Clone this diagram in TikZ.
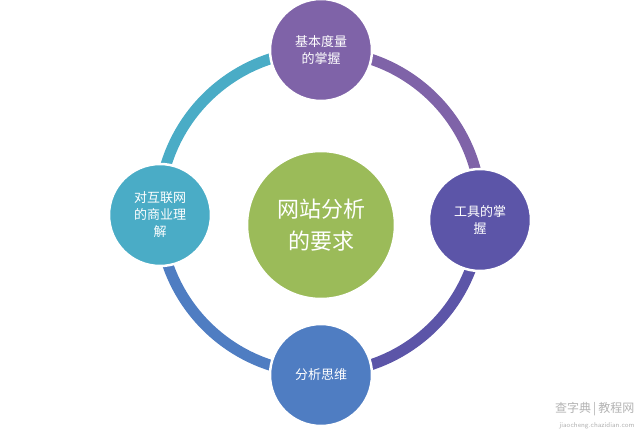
\documentclass[tikz,border=0pt]{standalone}
\usepackage{fontspec}
\newfontfamily\cjk{Noto Sans CJK SC}
\begin{document}
\begin{tikzpicture}[x=1pt,y=1pt,
  bub/.style={circle,draw=white,line width=2.5pt,text=white,font=\cjk\fontsize{13}{17}\selectfont,align=center,inner sep=0pt,minimum size=102pt},
  seg/.style={line width=11pt}]
\useasboundingbox (0,0) rectangle (642,431);
\definecolor{cT}{HTML}{7F63A8}
\definecolor{cR}{HTML}{5C55A8}
\definecolor{cB}{HTML}{4F7DC2}
\definecolor{cL}{HTML}{4AACC6}
\definecolor{cG}{HTML}{9BBB59}
\coordinate (o) at (320,219);
\draw[seg,cT] ([shift={(90:161)}]o) arc[start angle=90,end angle=0,radius=161];
\draw[seg,cR] ([shift={(0:161)}]o) arc[start angle=0,end angle=-90,radius=161];
\draw[seg,cB] ([shift={(-90:161)}]o) arc[start angle=-90,end angle=-180,radius=161];
\draw[seg,cL] ([shift={(180:161)}]o) arc[start angle=180,end angle=90,radius=161];
\node[bub,fill=cG,minimum size=148pt,font=\cjk\fontsize{22}{32}\selectfont] (c) at (321,206) {网站分析\\的要求};
\node[bub,fill=cT] (t) at (321,381) {基本度量\\的掌握};
\node[bub,fill=cR] (r) at (480,211) {工具的掌\\握};
\node[bub,fill=cB] (b) at (321,56) {分析思维};
\node[bub,fill=cL] (l) at (160,216) {对互联网\\的商业理\\解};
\node[text=gray!60,font=\cjk\fontsize{12}{12}\selectfont,anchor=south east] (w) at (638,12) {查字典\,|\,教程网};
\node[text=gray!60,font=\sffamily\fontsize{7}{7}\selectfont,anchor=north east] (w2) at (w.south east) {jiaocheng.chazidian.com};
\end{tikzpicture}
\end{document}
